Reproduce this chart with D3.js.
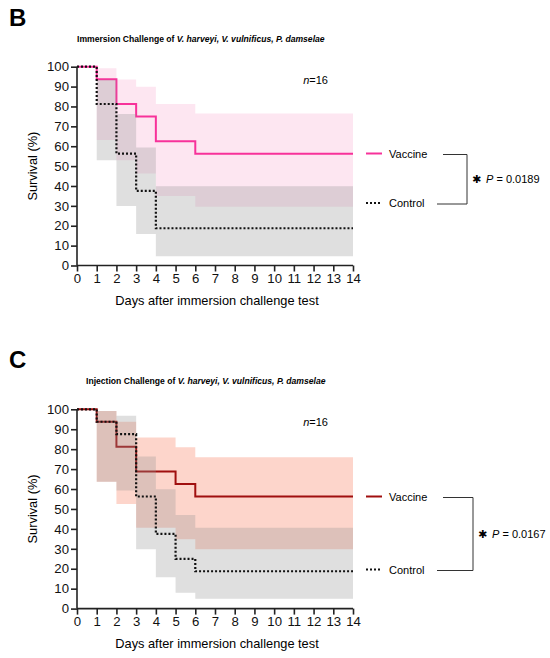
<!DOCTYPE html>
<html>
<head>
<meta charset="utf-8">
<script src="https://cdn.jsdelivr.net/npm/d3@7"></script>
<style>
  body { margin: 0; background: #fff; }
  svg { font-family: "Liberation Sans", Arial, Helvetica, sans-serif; }
</style>
</head>
<body>
<div id="chart"></div>
<script>
// tick labels
const xTicks = d3.range(0, 15);
const yTicks = d3.range(0, 101, 10);
const lastDay = 14;

// B: immersion challenge (Kaplan-Meier steps + 95% CI)
const immVacDays  = [0, 1, 2, 3, 4, 6];
const immVacSurv  = [100, 93.75, 81.25, 75, 62.5, 56.25];
const immVacUpper = [100, 99.2, 93.6, 89.9, 81.2, 76.5];
const immVacLower = [100, 63.1, 53.0, 46.3, 34.9, 29.5];
const immCtlDays  = [0, 1, 2, 3, 4];
const immCtlSurv  = [100, 81.25, 56.25, 37.5, 18.75];
const immCtlUpper = [100, 93.4, 76.2, 59.4, 39.9];
const immCtlLower = [100, 53.0, 29.9, 15.8, 4.7];

// C: injection challenge
const injVacDays  = [0, 1, 2, 3, 5, 6];
const injVacSurv  = [100, 93.75, 81.25, 68.75, 62.5, 56.25];
const injVacUpper = [100, 99.2, 93.8, 85.8, 80.9, 75.9];
const injVacLower = [100, 63.7, 52.5, 40.6, 34.8, 29.8];
const injCtlDays  = [0, 1, 2, 3, 4, 5, 6];
const injCtlSurv  = [100, 93.75, 87.5, 56.25, 37.5, 25, 18.75];
const injCtlUpper = [100, 99.2, 96.8, 76.3, 59.9, 47.0, 40.6];
const injCtlLower = [100, 63.7, 59.2, 29.8, 15.7, 8.0, 5.0];

const width = 550, height = 658;
const svg = d3.select("#chart").append("svg")
    .attr("width", width)
    .attr("height", height);

const x = d3.scaleLinear().domain([0, lastDay]).range([77, 353]);

// turn step arrays into points, adding the end of follow-up
function steps(days, surv, upper, lower) {
    const pts = days.map((d, i) => ({ day: d, s: surv[i], hi: upper[i], lo: lower[i] }));
    const last = pts[pts.length - 1];
    pts.push({ day: lastDay, s: last.s, hi: last.hi, lo: last.lo });
    return pts;
}

function drawPanel(opt) {
    const y = d3.scaleLinear().domain([0, 100]).range([opt.bottom, opt.top]);
    const g = svg.append("g");

    g.append("text")
        .attr("x", 9).attr("y", opt.top - 41)
        .attr("font-size", 24).attr("font-weight", "bold")
        .text(opt.letter);

    const title = g.append("text")
        .attr("x", opt.titleX).attr("y", opt.top - 25)
        .attr("font-size", 8.6).attr("font-weight", "bold");
    title.append("tspan").text(opt.titleLead);
    title.append("tspan").attr("font-style", "italic").text("V. harveyi, V. vulnificus, P. damselae");

    const area = d3.area()
        .x(d => x(d.day)).y0(d => y(d.lo)).y1(d => y(d.hi))
        .curve(d3.curveStepAfter);
    const line = d3.line()
        .x(d => x(d.day)).y(d => y(d.s))
        .curve(d3.curveStepAfter);

    const vac = steps(opt.vac[0], opt.vac[1], opt.vac[2], opt.vac[3]);
    const ctl = steps(opt.ctl[0], opt.ctl[1], opt.ctl[2], opt.ctl[3]);

    g.append("path").attr("d", area(vac)).attr("fill", opt.band);
    g.append("path").attr("d", line(vac))
        .attr("fill", "none").attr("stroke", opt.color).attr("stroke-width", 2);
    g.append("path").attr("d", area(ctl)).attr("fill", "rgba(150,150,150,0.3)");
    g.append("path").attr("d", line(ctl))
        .attr("fill", "none").attr("stroke", "#111").attr("stroke-width", 2.2)
        .attr("stroke-dasharray", "2,2");

    // axes
    const yAxis = g.append("g")
        .attr("transform", `translate(${x(0)},0)`)
        .call(d3.axisLeft(y).tickValues(yTicks).tickSize(6).tickPadding(2));
    const xAxis = g.append("g")
        .attr("transform", `translate(0,${opt.bottom})`)
        .call(d3.axisBottom(x).tickValues(xTicks).tickSize(6).tickPadding(2));
    [xAxis, yAxis].forEach(a => {
        a.select(".domain").attr("stroke", "#222").attr("stroke-width", 1.6);
        a.selectAll(".tick line").attr("stroke", "#222").attr("stroke-width", 1.6);
        a.selectAll("text").attr("font-size", 13.2).attr("fill", "#111")
            .attr("font-family", "Liberation Sans, Arial, sans-serif");
    });
    xAxis.select(".domain").attr("d", `M${x(0)},0H${x(lastDay)}`);
    yAxis.select(".domain").attr("d", `M0,${opt.bottom}V${opt.top}`);

    g.append("text")
        .attr("transform", `translate(37,${(opt.top + opt.bottom) / 2}) rotate(-90)`)
        .attr("text-anchor", "middle").attr("font-size", 12.8)
        .text("Survival (%)");
    g.append("text")
        .attr("x", (x(0) + x(lastDay)) / 2 + 2).attr("y", opt.bottom + 39)
        .attr("text-anchor", "middle").attr("font-size", 12.8)
        .text("Days after immersion challenge test");

    const n = g.append("text")
        .attr("x", 328).attr("y", opt.top + 17)
        .attr("text-anchor", "end").attr("font-size", 11);
    n.append("tspan").attr("font-style", "italic").text("n");
    n.append("tspan").text("=16");

    // legend
    const ly1 = opt.legendY[0], ly2 = opt.legendY[1];
    g.append("line").attr("x1", 366).attr("x2", 382).attr("y1", ly1).attr("y2", ly1)
        .attr("stroke", opt.color).attr("stroke-width", 2);
    g.append("line").attr("x1", 366).attr("x2", 382).attr("y1", ly2).attr("y2", ly2)
        .attr("stroke", "#111").attr("stroke-width", 2).attr("stroke-dasharray", "2,2");
    g.append("text").attr("x", 389).attr("y", ly1 + 4).attr("font-size", 11).text("Vaccine");
    g.append("text").attr("x", 389).attr("y", ly2 + 4).attr("font-size", 11).text("Control");

    const bx = opt.bracketX;
    g.append("path")
        .attr("d", `M443,${ly1 + 1}H${bx}V${ly2 + 1}H437`)
        .attr("fill", "none").attr("stroke", "#333").attr("stroke-width", 1);
    const mid = (ly1 + ly2) / 2 + 1;
    g.append("text").attr("x", bx + 5).attr("y", mid + 4)
        .attr("font-size", 11).attr("font-family", "DejaVu Sans")
        .text("\u2731");
    const p = g.append("text").attr("x", bx + 19).attr("y", mid + 4).attr("font-size", 11);
    p.append("tspan").attr("font-style", "italic").text("P");
    p.append("tspan").text(" = " + opt.pValue);
}

drawPanel({
    letter: "B", top: 66.7, bottom: 265.5, titleX: 77,
    titleLead: "Immersion Challenge of  ",
    vac: [immVacDays, immVacSurv, immVacUpper, immVacLower],
    ctl: [immCtlDays, immCtlSurv, immCtlUpper, immCtlLower],
    color: "#f7329a", band: "#fde6f1",
    legendY: [153.5, 203], bracketX: 467, pValue: "0.0189"
});

drawPanel({
    letter: "C", top: 409.3, bottom: 608.6, titleX: 86,
    titleLead: "Injection Challenge of ",
    vac: [injVacDays, injVacSurv, injVacUpper, injVacLower],
    ctl: [injCtlDays, injCtlSurv, injCtlUpper, injCtlLower],
    color: "#a00f0f", band: "#fdd5cb",
    legendY: [496.5, 569.5], bracketX: 473, pValue: "0.0167"
});
</script>
</body>
</html>
